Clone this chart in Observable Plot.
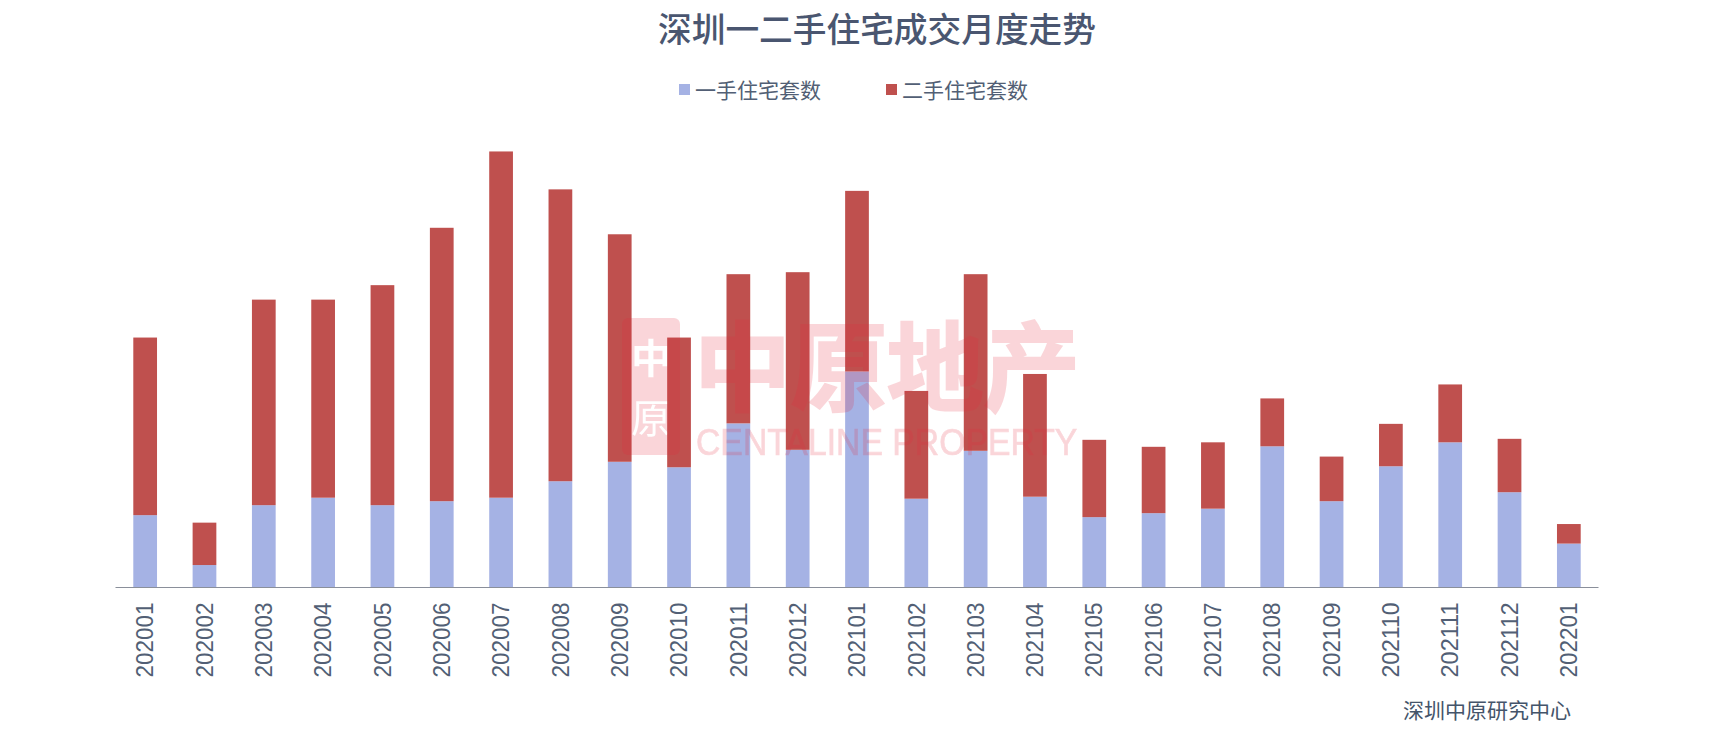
<!DOCTYPE html>
<html><head><meta charset="utf-8">
<script src="https://cdn.jsdelivr.net/npm/d3@7"></script>
<script src="https://cdn.jsdelivr.net/npm/@observablehq/plot@0.6"></script>
<style>
html,body{margin:0;padding:0;background:#fff;}
#page{position:relative;width:1711px;height:737px;overflow:hidden;font-family:"Noto Sans CJK SC",sans-serif;color:#44546A;}
#page>div{position:absolute;white-space:nowrap;line-height:1;}
#title{left:0;width:1711px;padding-left:43px;box-sizing:border-box;text-align:center;top:11px;font-size:33.7px;font-weight:500;color:#4A5670;}
.lg{top:79px;font-size:21px;display:flex;align-items:center;color:#525F75;}
.sw{display:inline-block;width:11px;height:11px;margin-right:5px;}
#chart{left:0;top:130px;}
#caption{left:1403px;top:699px;font-size:21px;color:#44546A;}
.wm{color:#E6283C;opacity:.19;pointer-events:none;}
#wmcn{left:694px;top:312px;font-size:97px;font-weight:700;letter-spacing:-.6px;-webkit-text-stroke:2px #E6283C;}
#wmen{left:696px;top:424px;font-size:37.5px;font-family:"Liberation Sans",sans-serif;transform:scaleX(.9);transform-origin:left top;-webkit-text-stroke:.7px #E6283C;}
#wmlogo{left:622px;top:318px;width:58px;height:137px;}
</style></head>
<body><div id="page">
<div id="title">深圳一二手住宅成交月度走势</div>
<div class="lg" style="left:679px"><span class="sw" style="background:#A5B2E4"></span>一手住宅套数</div>
<div class="lg" style="left:886px"><span class="sw" style="background:#BF504E"></span>二手住宅套数</div>
<div id="chart"></div>
<div id="caption">深圳中原研究中心</div>
<div id="wmlogo" class="wm">
<svg width="58" height="137" viewBox="0 0 58 137" style="display:block">
<mask id="seal"><rect width="58" height="137" fill="#fff"/>
<text x="29" y="55" text-anchor="middle" font-size="40" font-weight="700" fill="#000" font-family="Noto Sans CJK SC">中</text>
<text x="29" y="115" text-anchor="middle" font-size="40" fill="#000" font-family="Noto Sans CJK SC">原</text>
</mask>
<rect width="58" height="137" rx="6" fill="#E6283C" mask="url(#seal)"/>
</svg></div>
<div id="wmcn" class="wm">中原地产</div>
<div id="wmen" class="wm">CENTALINE PROPERTY</div>
</div>
<script>
const months = ["202001","202002","202003","202004","202005","202006","202007","202008","202009","202010","202011","202012","202101","202102","202103","202104","202105","202106","202107","202108","202109","202110","202111","202112","202201"];
const firstHand = [72,22,82,89.5,82,86,89.5,106,125.5,120,164,137.5,216,88.5,136.5,90.5,70,74,78.5,141,86,121,145,95,43.5];
const secondHand = [178,42.5,206,198.5,220.5,274,347,292.5,228,130,149.5,178,181,108,177,123,77.5,66.5,66.5,48,44.7,42.5,58,53.5,19.6];
const seriesNames = ["一手住宅套数","二手住宅套数"];
const seriesColors = ["#A5B2E4","#BF504E"];

const rows = months.flatMap((m,i)=>[
  {month:m, series:seriesNames[0], value:firstHand[i]},
  {month:m, series:seriesNames[1], value:secondHand[i]}
]);
const chart = Plot.plot({
  width:1711, height:607,
  marginLeft:115.5, marginRight:112.5, marginTop:0, marginBottom:150,
  style:{background:"transparent",overflow:"visible"},
  x:{domain:months, paddingInner:0.6, paddingOuter:0.3, round:false, label:null},
  y:{domain:[0,458], axis:null},
  color:{domain:seriesNames, range:seriesColors},
  marks:[
    Plot.barY(rows, Plot.stackY({x:"month", y:"value", fill:"series", order:seriesNames})),
    Plot.ruleY([0],{stroke:"#8A8F9A", strokeWidth:1.2}),
    Plot.axisX({domain:months, tickSize:0, tickRotate:-90, tickPadding:15, fontSize:24, label:null,
      fontFamily:"Liberation Sans, sans-serif", fill:"#525F75"})
  ]
});
document.getElementById("chart").appendChild(chart);
// the reference's tick labels are slightly condensed along their length
chart.querySelectorAll('[aria-label="x-axis tick label"] text').forEach(t=>{
  t.setAttribute("textLength","75");
  t.setAttribute("lengthAdjust","spacingAndGlyphs");
});
</script>
</body></html>
